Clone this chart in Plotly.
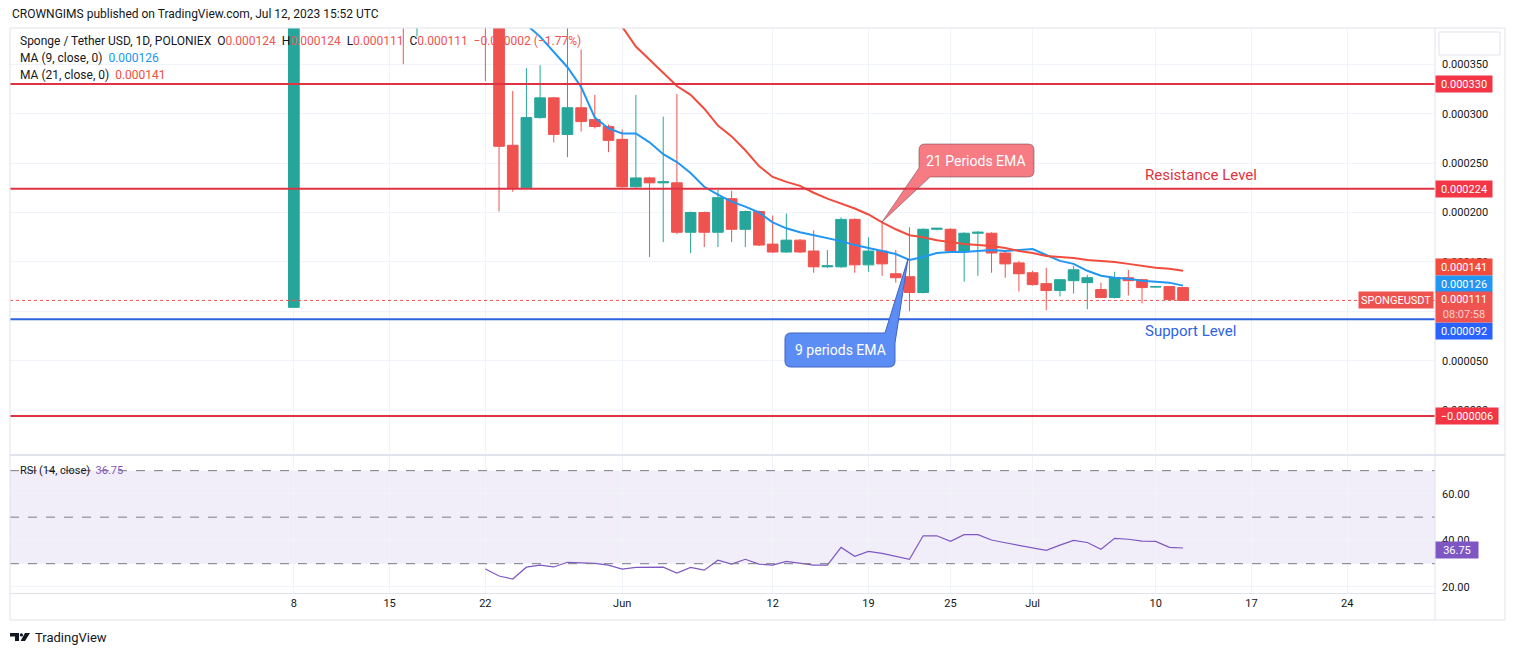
import pandas as pd
import plotly.graph_objects as go

# ── Data (prices in millionths of USDT) ───────────────────────────────────────
start_date = "2023-05-08"

open_ = [104, 540, 490, 455, 500, 470, 440, 505, 460, 430, 480, 470, 450, 470, 445,
         420, 268, 225, 296, 316, 279, 306, 294, 287, 274, 226, 235, 230, 230, 180,
         200, 180, 214, 183, 201, 168, 160, 172, 161, 145, 145, 193, 147, 161, 138,
         135, 119, 183, 183, 161, 179, 179, 159, 149, 139, 128, 121, 131, 129, 122,
         114, 134, 132, 124.5, 125, 124]
high = [560, 585, 530, 520, 540, 500, 520, 530, 480, 500, 520, 500, 490, 500, 470,
        430, 323, 346, 349, 317, 395, 365, 319, 289, 284, 319, 236, 297, 320, 201,
        201, 223, 222, 202, 202, 197, 199, 173, 182, 162, 195, 194, 175, 190, 162,
        185, 184, 184, 184, 180, 181, 180, 160, 151, 141, 144, 132, 146, 137, 129,
        140, 142, 133, 125, 125, 124]
low = [104, 470, 430, 420, 450, 410, 430, 440, 350, 378, 440, 420, 410, 430, 333,
       201, 221, 224, 295, 271, 256, 282, 285, 261, 225, 225, 155, 170, 178, 159,
       165, 165, 170, 165, 166, 159, 159, 159, 139, 144, 144, 139, 140, 136, 129,
       100, 118, 182, 160, 130, 136, 139, 134, 120, 126, 101, 115, 118, 102, 114,
       113, 116, 108, 124, 112, 111]
close = [540, 490, 455, 500, 470, 440, 505, 460, 430, 480, 470, 450, 470, 445, 420,
         267, 225, 296, 316, 279, 306, 292, 287, 273, 226, 235, 230, 231, 180, 200,
         180, 215, 183, 201, 167, 160, 172, 160, 145, 146, 193, 147, 161, 148, 134,
         119, 183, 184, 161, 179, 180, 159, 148, 138, 127, 121, 132, 142, 134, 114,
         134, 131, 124, 125, 112, 111]

# moving averages as drawn (MA9 from May 24, MA21 from May 31)
ma9 = [400, 390, 378, 363, 347, 327, 296, 285, 280, 280, 271, 259, 251, 240, 226,
       218, 211, 206, 200, 190, 184, 180, 177, 174, 171, 167, 164, 161, 158, 152,
       155, 159, 160, 160, 161, 162, 161, 162, 163, 157, 151, 148, 141, 136, 134,
       133, 131, 130, 129, 126]
ma21 = [400, 388, 368, 355, 341, 328, 319, 305, 288, 277, 263, 247, 236, 231, 227,
        220, 214, 209, 204, 198, 190, 183, 177, 175, 172, 170, 168, 167, 166, 164,
        161, 159, 156, 155, 154, 152, 151, 150, 148, 146, 144, 143, 141]

# RSI(14) from May 22
rsi = [27.7, 24.7, 23.4, 28.5, 29.4, 28.6, 30.6, 30.3, 30.1, 29.4, 27.7, 28.4, 28.4,
       28.5, 26.0, 28.4, 27.2, 31.5, 29.8, 31.9, 29.8, 29.4, 31.0, 30.2, 29.4, 29.4,
       37.0, 33.2, 35.3, 34.4, 33.2, 31.9, 42.0, 42.0, 39.6, 42.5, 42.5, 40.2, 39.0,
       37.9, 36.8, 35.7, 38.0, 40.0, 39.1, 36.2, 40.9, 40.5, 39.7, 39.6, 37.0, 36.75]

levels_red = [330, 224, -6]
level_blue = 92
last_price = 111

tick_dates = ["2023-05-08", "2023-05-15", "2023-05-22", "2023-06-01", "2023-06-12",
              "2023-06-19", "2023-06-25", "2023-07-01", "2023-07-10", "2023-07-17",
              "2023-07-24"]
tick_text = ["8", "15", "22", "Jun", "12", "19", "25", "Jul", "10", "17", "24"]
price_ticks = [0, 50, 100, 150, 200, 250, 300, 350]
rsi_ticks = [20, 40, 60]

GREEN = "#26A69A"
RED = "#EF5350"
LINE_RED = "#DE3342"
LINE_BLUE = "#2D62E3"
MA9_COL = "#2196F3"
MA21_COL = "#F24C3D"
RSI_COL = "#7E57C2"
GRID = "#F0F3FA"
BORDER = "#E0E3EB"
TXT = "#131722"
FONT = "Roboto"

M = 1e-6
dates = pd.date_range(start_date, periods=len(close), freq="D")


# ── pixel -> paper helpers (plot area is x 10..1435, y 28..620) ──────────────
def px(x):
    return (x - 10) / 1425


def py(y):
    return (620 - y) / 592


def path(points):
    out = []
    for cmd, pts in points:
        coords = " ".join(f"{px(a):.5f},{py(b):.5f}" for a, b in pts)
        out.append(f"{cmd}{coords}")
    return " ".join(out) + " Z"


fig = go.Figure()

fig.add_trace(go.Candlestick(
    x=dates,
    open=[v * M for v in open_], high=[v * M for v in high],
    low=[v * M for v in low], close=[v * M for v in close],
    increasing=dict(line=dict(color=GREEN, width=1), fillcolor=GREEN),
    decreasing=dict(line=dict(color=RED, width=1), fillcolor=RED),
    showlegend=False, xaxis="x", yaxis="y",
))
fig.add_trace(go.Scatter(
    x=dates[len(close) - len(ma9):], y=[v * M for v in ma9], mode="lines",
    line=dict(color=MA9_COL, width=2), showlegend=False, yaxis="y",
))
fig.add_trace(go.Scatter(
    x=dates[len(close) - len(ma21):], y=[v * M for v in ma21], mode="lines",
    line=dict(color=MA21_COL, width=2), showlegend=False, yaxis="y",
))
fig.add_trace(go.Scatter(
    x=dates[len(close) - len(rsi):], y=rsi, mode="lines",
    line=dict(color=RSI_COL, width=1.2), showlegend=False, yaxis="y2",
))

shapes = []
# support / resistance lines
for lv in levels_red:
    shapes.append(dict(type="line", xref="paper", yref="y", x0=0, x1=1,
                       y0=lv * M, y1=lv * M, line=dict(color=LINE_RED, width=2)))
shapes.append(dict(type="line", xref="paper", yref="y", x0=0, x1=1,
                   y0=level_blue * M, y1=level_blue * M,
                   line=dict(color=LINE_BLUE, width=2)))
shapes.append(dict(type="line", xref="paper", yref="y", x0=0, x1=1,
                   y0=last_price * M, y1=last_price * M,
                   line=dict(color=RED, width=1, dash="dot")))
# RSI band and guide lines
shapes.append(dict(type="rect", xref="paper", yref="y2", x0=0, x1=1, y0=30, y1=70,
                   fillcolor="rgba(126,87,194,0.1)", line=dict(width=0), layer="below"))
for lv in (30, 50, 70):
    shapes.append(dict(type="line", xref="paper", yref="y2", x0=0, x1=1, y0=lv, y1=lv,
                       line=dict(color="#787B86", width=1, dash="dash")))
# frame, axis column and pane separator
shapes.append(dict(type="rect", xref="paper", yref="paper", x0=px(10), x1=px(1505),
                   y0=py(620), y1=py(28), line=dict(color=BORDER, width=1)))
shapes.append(dict(type="line", xref="paper", yref="paper", x0=1, x1=1,
                   y0=py(620), y1=py(28), line=dict(color=BORDER, width=1)))
shapes.append(dict(type="line", xref="paper", yref="paper", x0=px(10), x1=px(1505),
                   y0=py(455), y1=py(455), line=dict(color=BORDER, width=2)))
shapes.append(dict(type="rect", xref="paper", yref="paper", x0=px(1439), x1=px(1500),
                   y0=py(55), y1=py(32), line=dict(color=BORDER, width=1)))
# callouts
shapes.append(dict(type="path", xref="paper", yref="paper", path=path([
    ("M", [(925, 144)]), ("L", [(1028, 144)]), ("Q", [(1034, 144), (1034, 150)]),
    ("L", [(1034, 171)]), ("Q", [(1034, 177), (1028, 177)]), ("L", [(930, 177)]),
    ("L", [(882, 222)]), ("L", [(919, 168)]), ("L", [(919, 150)]),
    ("Q", [(919, 144), (925, 144)]),
]), fillcolor="rgba(242,60,72,0.68)", line=dict(color="rgba(110,70,80,0.55)", width=1)))
shapes.append(dict(type="path", xref="paper", yref="paper", path=path([
    ("M", [(791, 333)]), ("L", [(885, 333)]), ("L", [(908, 259)]), ("L", [(895, 343)]),
    ("L", [(895, 361)]), ("Q", [(895, 367), (889, 367)]), ("L", [(791, 367)]),
    ("Q", [(785, 367), (785, 361)]), ("L", [(785, 339)]), ("Q", [(785, 333), (791, 333)]),
]), fillcolor="#5C8DF5", line=dict(color="#3F64C2", width=1)))
# TradingView logo mark
shapes.append(dict(type="path", xref="paper", yref="paper", path=path([
    ("M", [(10, 633)]), ("L", [(19, 633)]), ("L", [(19, 641)]), ("L", [(15, 641)]),
    ("L", [(15, 636.5)]), ("L", [(10, 636.5)]),
]), fillcolor=TXT, line=dict(width=0)))
shapes.append(dict(type="circle", xref="paper", yref="paper", x0=px(19.8), x1=px(23),
                   y0=py(636.5), y1=py(633.3), fillcolor=TXT, line=dict(width=0)))
shapes.append(dict(type="path", xref="paper", yref="paper", path=path([
    ("M", [(25, 633)]), ("L", [(30, 633)]), ("L", [(25, 641)]), ("L", [(20.5, 641)]),
]), fillcolor=TXT, line=dict(width=0)))

ann = []


def txt(x, y, text, size=12, color=TXT, anchor="left", **kw):
    ann.append(dict(xref="paper", yref="paper", x=px(x), y=py(y), text=text,
                    showarrow=False, xanchor=anchor, yanchor="middle",
                    font=dict(family=FONT, size=size, color=color), **kw))


def price_box(value, label, bg, yref="y", shift=0, width=52, height=12, color="white"):
    ann.append(dict(xref="paper", yref=yref, x=1, y=value, text=label, showarrow=False,
                    xanchor="left", yanchor="middle", yshift=shift, bgcolor=bg,
                    borderpad=2, width=width, height=height, align="center",
                    font=dict(family=FONT, size=11, color=color)))


txt(10, 14, "CROWNGIMS published on TradingView.com, Jul 12, 2023 15:52 UTC", size=12)
vr = f"<span style='color:{RED}'>"
txt(18, 41, "Sponge / Tether USD, 1D, POLONIEX  "
    f"O{vr}0.000124</span>  H{vr}0.000124</span>  L{vr}0.000111</span>  "
    f"C{vr}0.000111</span>  {vr}−0.000002 (−1.77%)</span>", size=12)
txt(18, 58, f"MA (9, close, 0)  <span style='color:{MA9_COL}'>0.000126</span>", size=12)
txt(18, 75, f"MA (21, close, 0)  <span style='color:{MA21_COL}'>0.000141</span>", size=12)
txt(18, 470, f"RSI (14, close)  <span style='color:{RSI_COL}'>36.75</span>", size=11)
txt(1143, 175, "Resistance Level", size=15, color="#DE3342")
txt(1143, 331, "Support Level", size=15, color="#2D62E3")
txt(976, 161, "21 Periods EMA", size=14, color="white", anchor="center")
txt(840, 350, "9 periods EMA", size=14, color="white", anchor="center")
txt(33, 637, "TradingView", size=13)

for lv in levels_red:
    price_box(lv * M, f"{lv * M:.6f}".replace("-", "−"), "#F23645",
              width=58 if lv < 0 else 52)
price_box(level_blue * M, f"{level_blue * M:.6f}", "#2962FF", shift=-12)
price_box(ma21[-1] * M, f"{ma21[-1] * M:.6f}", MA21_COL, shift=4)
price_box(ma9[-1] * M, f"{ma9[-1] * M:.6f}", MA9_COL, shift=2)
price_box(last_price * M,
          f"{last_price * M:.6f}<br><span style='color:#FFD2D2'>08:07:58</span>",
          RED, shift=-7, height=26)
price_box(rsi[-1], f"{rsi[-1]:.2f}", RSI_COL, yref="y2", shift=-2, width=38)
ann.append(dict(xref="paper", yref="y", x=1, y=last_price * M, text="SPONGEUSDT",
                showarrow=False, xanchor="right", yanchor="middle", xshift=-1,
                bgcolor=RED, borderpad=2, height=12,
                font=dict(family=FONT, size=11, color="white")))

fig.update_layout(
    width=1515, height=655,
    margin=dict(l=10, r=80, t=28, b=35),
    paper_bgcolor="white", plot_bgcolor="white",
    boxgap=0.22, boxgroupgap=0,
    showlegend=False, hovermode=False,
    font=dict(family=FONT, size=11, color=TXT),
    xaxis=dict(
        domain=[0, 1], anchor="y2", type="date",
        range=["2023-04-17 06:00", "2023-07-30 10:00"],
        tickvals=tick_dates, ticktext=tick_text, ticks="",
        showgrid=True, gridcolor=GRID, gridwidth=1, zeroline=False,
        showline=True, linecolor=BORDER, linewidth=1,
        rangeslider=dict(visible=False),
        tickfont=dict(family=FONT, size=11, color=TXT),
    ),
    yaxis=dict(
        domain=[py(453), 1], anchor="x", side="right",
        range=[-43.4 * M, 386.7 * M],
        tickvals=[t * M for t in price_ticks],
        ticktext=[f"{t * M:.6f}" for t in price_ticks],
        showgrid=True, gridcolor=GRID, zeroline=False, ticks="",
        ticklabelstandoff=6,
        tickfont=dict(family=FONT, size=11, color=TXT),
    ),
    yaxis2=dict(
        domain=[py(593), py(456)], anchor="x", side="right",
        range=[17.4, 76.3], tickvals=rsi_ticks,
        ticktext=[f"{t:.2f}" for t in rsi_ticks],
        showgrid=True, gridcolor=GRID, zeroline=False, ticks="",
        ticklabelstandoff=6,
        tickfont=dict(family=FONT, size=11, color=TXT),
    ),
    shapes=shapes,
    annotations=ann,
)

fig.write_html("out.html", config={"displayModeBar": False},
               post_script="document.body.style.margin='0';")
